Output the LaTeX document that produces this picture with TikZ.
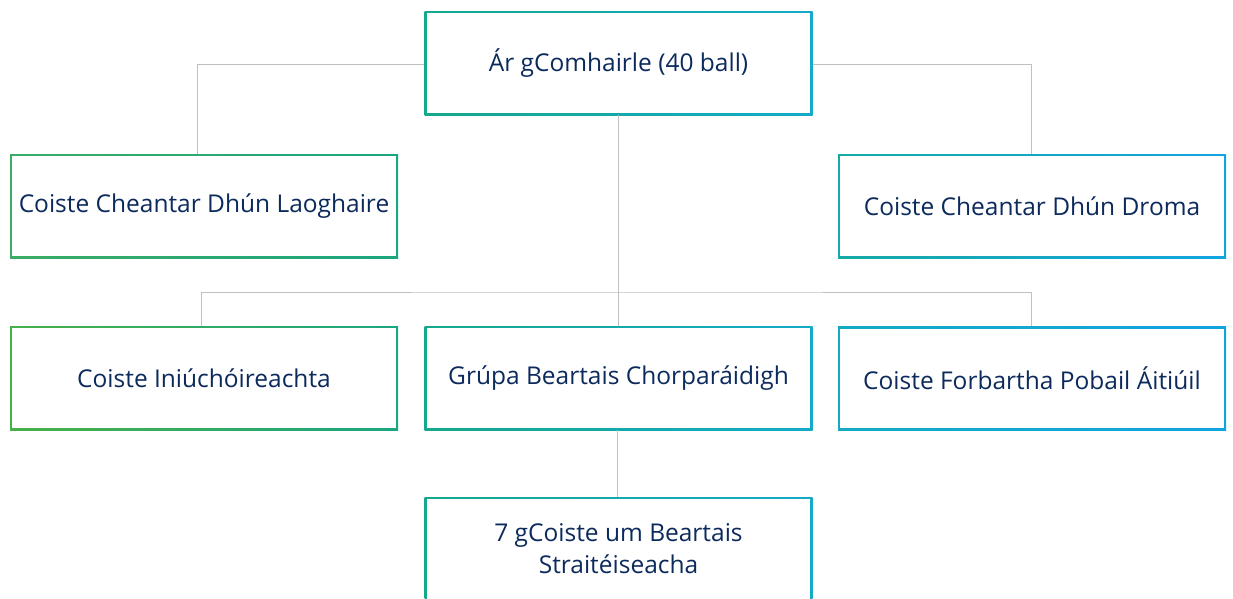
\documentclass[tikz,border=0pt]{standalone}
\usepackage{fontspec}
\setmainfont{Open Sans}
\definecolor{navytext}{RGB}{12,42,92}
\definecolor{linkgrey}{RGB}{192,192,192}
\definecolor{gA}{RGB}{72,176,72}
\definecolor{gB}{RGB}{58,172,100}
\definecolor{gC}{RGB}{26,166,128}
\definecolor{gD}{RGB}{20,168,140}
\definecolor{gE}{RGB}{20,170,200}
\definecolor{gF}{RGB}{20,170,165}
\definecolor{gG}{RGB}{20,170,195}
\definecolor{gH}{RGB}{18,164,224}
\tikzset{
  orgbox/.style 2 args={rectangle, minimum width=388pt, minimum height=104pt,
    left color=#1, right color=#2, text=navytext, align=center,
    font=\fontsize{24.5}{32}\selectfont,
    path picture={\fill[white]
      ([shift={(2.2pt,2.2pt)}]path picture bounding box.south west) rectangle
      ([shift={(-2.2pt,-2.2pt)}]path picture bounding box.north east);}},
  link/.style={draw=linkgrey, line width=1pt}
}
\begin{document}
\begin{tikzpicture}[x=1pt, y=-1pt]
\useasboundingbox (0,0) rectangle (1233,598);

% boxes
\node[orgbox={gD}{gE}] (council) at (618.5,63) {Ár gComhairle (40 ball)};
\node[orgbox={gB}{gC}] (dlcc) at (204,206) {Coiste Cheantar Dhún Laoghaire};
\node[orgbox={gF}{gH}] (ddcc) at (1032,206) {Coiste Cheantar Dhún Droma};
\node[orgbox={gA}{gC}] (audit) at (204,378) {Coiste Iniúchóireachta};
\node[orgbox={gD}{gE}] (cpg) at (618.5,378) {Grúpa Beartais Chorparáidigh};
\node[orgbox={gG}{gH}] (lcdc) at (1032,378.5) {Coiste Forbartha Pobail Áitiúil};
\node[orgbox={gD}{gE}] (spc) at (618.5,549) {7 gCoiste um Beartais\\Straitéiseacha};

% connectors
\coordinate (bus) at (618,292);
\draw[link] ([yshift=-1pt]council.west) -| ([xshift=-7pt]dlcc.north);
\draw[link] ([yshift=-1pt]council.east) -| ([xshift=-1pt]ddcc.north);
\draw[link] (council.south) -- (cpg.north);
\draw[link] ([xshift=-3pt]audit.north) |- (bus) -| ([xshift=-1pt]lcdc.north);
\draw[link] ([xshift=-1.5pt]cpg.south) -- ([xshift=-1.5pt]spc.north);

\end{tikzpicture}
\end{document}
